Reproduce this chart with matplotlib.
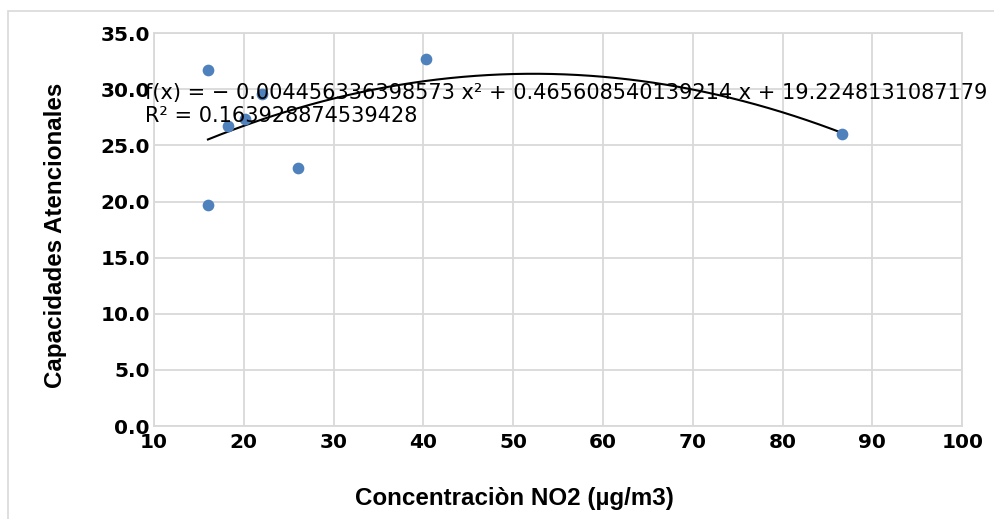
import numpy as np
import matplotlib.pyplot as plt
from matplotlib import font_manager
from matplotlib.patches import Rectangle

# data
no2 = [16.0, 16.0, 18.2, 20.1, 22.0, 26.0, 40.3, 86.6]
atencion = [31.7, 19.7, 26.7, 27.4, 29.6, 23.0, 32.7, 26.0]

# polynomial trendline (as shown in the chart label)
coef = [-0.004456336398573, 0.465608540139214, 19.2248131087179]
r2 = 0.163928874539428

xticks = list(range(10, 101, 10))
yticks = [0, 5, 10, 15, 20, 25, 30, 35]

# Arial-like bold for the axis titles
arial_bold = None
for f in font_manager.findSystemFonts():
    if f.endswith("LiberationSans-Bold.ttf"):
        arial_bold = font_manager.FontProperties(fname=f, size=17.4)
        break
if arial_bold is None:
    arial_bold = font_manager.FontProperties(family="DejaVu Sans", weight="bold", size=15)

fig = plt.figure(figsize=(9.94, 5.19), dpi=100)
ax = fig.add_axes([0.155, 0.179, 0.813, 0.757])

# outer frame of the chart object
fig.patches.append(Rectangle((8 / 994, -0.01), 1.0, 1 - 11 / 519 + 0.01,
                             transform=fig.transFigure, fill=False,
                             edgecolor="#d9d9d9", linewidth=1.2))

ax.scatter(no2, atencion, s=55, color="#4f81bd", zorder=3)

xs = np.linspace(min(no2), max(no2), 200)
ax.plot(xs, np.polyval(coef, xs), color="black", linewidth=1.5, zorder=2)

ax.set_xlim(10, 100)
ax.set_ylim(0, 35)
ax.set_xticks(xticks)
ax.set_yticks(yticks)
ax.set_yticklabels([f"{v:.1f}" for v in yticks])
ax.grid(True, color="#d9d9d9", linewidth=1.3)
ax.set_axisbelow(True)
for s in ax.spines.values():
    s.set_color("#d9d9d9")
    s.set_linewidth(1.3)
ax.tick_params(length=0, pad=3)
ax.tick_params(axis="x", pad=5)
for lbl in ax.get_xticklabels() + ax.get_yticklabels():
    lbl.set_fontweight("bold")
    lbl.set_family("DejaVu Sans")
    lbl.set_fontsize(14.5)

# axis titles sit a bit off-centre in the original
ax.set_xlabel("Concentraciòn NO2 (µg/m3)", fontproperties=arial_bold, va="center")
ax.set_ylabel("Capacidades Atencionales", fontproperties=arial_bold, va="center")
ax.xaxis.set_label_coords(0.4455, -0.1845)
ax.yaxis.set_label_coords(-0.1225, 0.486)

eq = (f"f(x) = − {abs(coef[0])} x² + {coef[1]} x + {coef[2]}\n"
      f"R² = {r2}")
ax.text(9.0, 30.55, eq, fontsize=15, family="DejaVu Sans", va="top", ha="left",
        linespacing=1.15, zorder=4)

fig.savefig("out.png", dpi=100)
